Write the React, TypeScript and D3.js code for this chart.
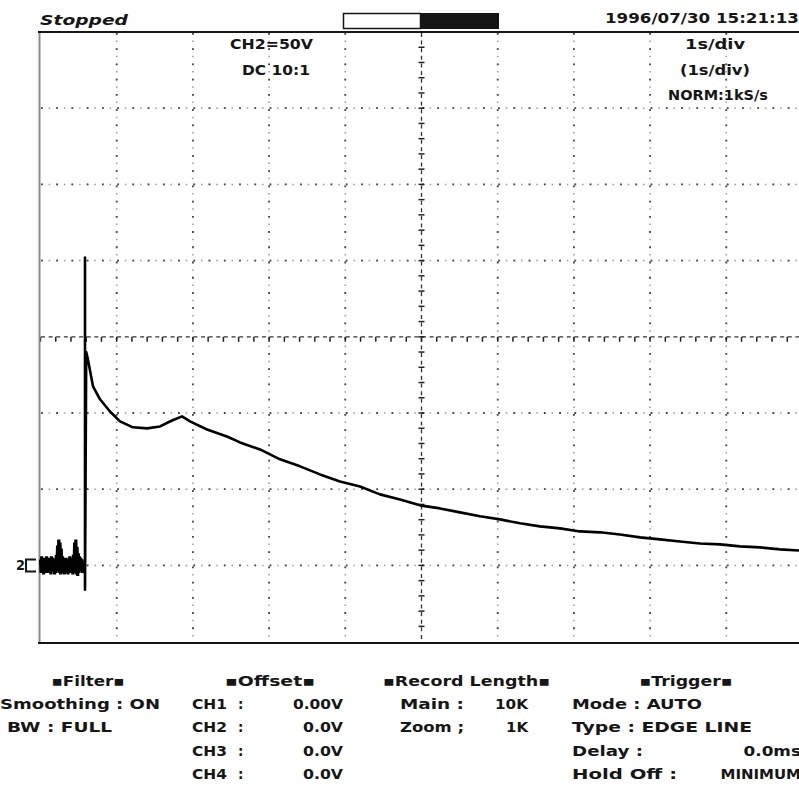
import React from "react";
import * as d3 from "d3";

// Screen captions
const statusText = "Stopped";
const dateText = "1996/07/30 15:21:13";
const ch2Labels = ["CH2=50V", "DC  10:1"];
const timebaseLabels = ["1s/div", "(1s/div)", "NORM:1kS/s"];

// Pre-trigger samples of CH2 (V), one every 8 ms from t = 0
const preTriggerV = [
  4, -5, 6, -4, 3, -6, 5, -3, 4, -5,
  6, -4, 2, -5, 5, -4, 3, -6, 6, -3,
  5, -4, 4, -6, 3, -5, 7, -4, 13, -4,
  17, -5, 15, -6, 11, -5, 6, -4, 5, -6,
  4, -3, 5, -5, 3, -6, 4, -4, 6, -5,
  5, -3, 4, -6, 7, -4, 15, -5, 17, -6,
  12, -7, 8, -5, 6, -4, 5, -3, 4, -5,
];
const sampleStep = 0.008;
const triggerT = 0.584;
const triggerHigh = 202;
const triggerLow = -16;

// Decay after the trigger: time (s) and CH2 voltage (V)
const decayT = [0.6, 0.623, 0.689, 0.781, 0.912, 1.043, 1.214, 1.398, 1.568, 1.726, 1.857, 1.962, 2.185, 2.447, 2.618, 2.881, 3.143, 3.406, 3.668, 3.93, 4.193, 4.455, 4.718, 4.98, 5.243, 5.505, 5.768, 6.03, 6.293, 6.555, 6.818, 7.08, 7.343, 7.605, 7.868, 8.13, 8.392, 8.655, 8.917, 9.18, 9.442, 9.705, 9.954];
const decayV = [140, 135, 117.5, 109, 101, 94.5, 90.6, 89.9, 91.2, 95.1, 97.8, 94.5, 89.2, 84.6, 80.7, 76.1, 69.6, 65, 59.7, 55.1, 51.8, 46.6, 43.3, 39.4, 37.4, 34.8, 32.2, 30.2, 27.6, 25.6, 24.3, 22.3, 21.7, 20.3, 18.4, 17.1, 15.7, 14.4, 13.8, 12.5, 11.8, 10.5, 9.8];

// Settings panels
const filterRows = ["Smoothing : ON", "BW : FULL"];
const offsetChannels = ["CH1", "CH2", "CH3", "CH4"];
const offsetValues = ["0.00V", "0.0V", "0.0V", "0.0V"];
const recordNames = ["Main :", "Zoom ;"];
const recordValues = ["10K", "1K"];
const triggerRows = ["Mode : AUTO", "Type : EDGE LINE", "Delay :", "Hold Off :"];
const triggerValues = ["", "", "0.0ms", "MINIMUM"];

const FONT = "'DejaVu Sans', sans-serif";
const INK = "#161616";

export default function App() {
  const x = d3.scaleLinear().domain([0, 10]).range([40.5, 802.5]);
  const y = d3.scaleLinear().domain([-50, 350]).range([641.6, 32]);
  const divPx = x(1) - x(0);

  const noise: [number, number][] = preTriggerV.map((v, i) => [i * sampleStep, v]);
  const trace: [number, number][] = [
    [noise[noise.length - 1][0], noise[noise.length - 1][1]],
    [triggerT, 4],
    [triggerT, triggerHigh],
    [triggerT, triggerLow],
    ...decayT.map((t, i) => [t, decayV[i]] as [number, number]),
  ];
  const line = d3
    .line<[number, number]>()
    .x((d) => x(d[0]))
    .y((d) => y(d[1]));

  const vGrid = d3.range(1, 10).filter((t) => t !== 5);
  const hGrid = d3.range(0, 350, 50).filter((v) => v !== 150);
  const cx = x(5);
  const cy = y(150);
  const minor = d3.range(0, 50).map((i) => i * (divPx / 5));

  const rowY = [681, 704, 727, 751, 774].map((v) => v + 5);
  const fs = 13.5;

  const txt = (
    s: string,
    px: number,
    py: number,
    opts: { anchor?: string; width?: number; italic?: boolean } = {}
  ) => (
    <text
      key={s + px + py}
      x={px}
      y={py}
      fontFamily={FONT}
      fontSize={fs}
      fontWeight="bold"
      fontStyle={opts.italic ? "italic" : "normal"}
      fill={INK}
      textAnchor={opts.anchor || "start"}
      textLength={opts.width}
      lengthAdjust="spacingAndGlyphs"
    >
      {s}
    </text>
  );

  const dotted = (key: string, x1: number, x2: number, y1: number, y2: number) => (
    <g key={key}>
      <line x1={x1} x2={x2} y1={y1} y2={y2} stroke="#9a9a9a" strokeWidth={1.5} strokeDasharray="1.5 6.12" />
      <line x1={x1} x2={x2} y1={y1} y2={y2} stroke="#4a4a4a" strokeWidth={1.8} strokeDasharray="1.8 13.44" />
    </g>
  );

  return (
    <svg width={799} height={790} style={{ position: "absolute", left: 0, top: 0, background: "#fff" }}>
      {/* header */}
      {txt(statusText, 40, 25, { italic: true, width: 88 })}
      <rect x={343.5} y={13.5} width={77} height={15} fill="#fff" stroke={INK} strokeWidth={1.5} />
      <rect x={420} y={13} width={79} height={16} fill={INK} />
      {txt(dateText, 605, 23, { width: 194 })}

      {/* graticule */}
      {vGrid.map((t) => dotted("v" + t, x(t), x(t), 33, 641))}
      {hGrid.map((v) => dotted("h" + v, 41, 799, y(v), y(v)))}
      <line x1={41} x2={799} y1={cy} y2={cy} stroke="#333" strokeWidth={1.3} strokeDasharray="4 3.62" />
      <line x1={cx} x2={cx} y1={33} y2={641} stroke="#333" strokeWidth={1.3} strokeDasharray="4 3.62" />
      {minor
        .filter((m) => x(0) + m < 799)
        .map((m) => (
          <line key={"mh" + m} x1={x(0) + m} x2={x(0) + m} y1={cy} y2={cy + 5} stroke="#222" strokeWidth={1.5} />
        ))}
      {minor
        .filter((m) => y(350) + m < 641)
        .map((m) => (
          <line key={"mv" + m} x1={cx - 3} x2={cx + 3} y1={y(350) + m} y2={y(350) + m} stroke="#222" strokeWidth={1.5} />
        ))}

      {/* frame */}
      <line x1={39.5} x2={39.5} y1={32} y2={643} stroke="#8c8c8c" strokeWidth={2} />
      <line x1={38} x2={799} y1={32} y2={32} stroke={INK} strokeWidth={2.2} />
      <line x1={38} x2={799} y1={643} y2={643} stroke={INK} strokeWidth={2.2} />

      {/* channel captions */}
      {txt(ch2Labels[0], 230, 49, { width: 83 })}
      {txt(ch2Labels[1], 242, 75, { width: 68 })}
      {txt(timebaseLabels[0], 715, 49, { anchor: "middle", width: 60 })}
      {txt(timebaseLabels[1], 715, 75, { anchor: "middle", width: 70 })}
      {txt(timebaseLabels[2], 718, 100, { anchor: "middle", width: 100 })}

      {/* waveform */}
      <path d={line(noise) || ""} fill="none" stroke="#000" strokeWidth={3.2} strokeLinejoin="miter" />
      <path d={line(trace) || ""} fill="none" stroke="#000" strokeWidth={2.6} strokeLinejoin="round" />

      {/* CH2 ground marker */}
      {txt("2", 16, y(0) + 5, { width: 9 })}
      <path d={`M36,${y(0) - 6} H26 V${y(0) + 6} H36`} fill="none" stroke={INK} strokeWidth={2} />

      {/* settings panels */}
      {txt("\u25aaFilter\u25aa", 88, rowY[0], { anchor: "middle", width: 73 })}
      {txt(filterRows[0], 0, rowY[1], { width: 160 })}
      {txt(filterRows[1], 7, rowY[2], { width: 105 })}

      {txt("\u25aaOffset\u25aa", 270, rowY[0], { anchor: "middle", width: 90 })}
      {offsetChannels.map((c, i) => (
        <g key={c}>
          {txt(c, 192, rowY[i + 1], { width: 35 })}
          {txt(":", 238, rowY[i + 1])}
          {txt(offsetValues[i], 343, rowY[i + 1], { anchor: "end", width: offsetValues[i].length * 10 })}
        </g>
      ))}

      {txt("\u25aaRecord Length\u25aa", 383, rowY[0], { width: 167 })}
      {recordNames.map((n, i) => (
        <g key={n}>
          {txt(n, 400, rowY[i + 1], { width: 64 })}
          {txt(recordValues[i], 528, rowY[i + 1], { anchor: "end", width: recordValues[i].length * 11 })}
        </g>
      ))}

      {txt("\u25aaTrigger\u25aa", 686, rowY[0], { anchor: "middle", width: 93 })}
      {triggerRows.map((r, i) => (
        <g key={r}>
          {txt(r, 572, rowY[i + 1], { width: [130, 180, 71, 105][i] })}
          {triggerValues[i] ? txt(triggerValues[i], 801, rowY[i + 1], { anchor: "end", width: triggerValues[i].length * 11.5 }) : null}
        </g>
      ))}
    </svg>
  );
}
